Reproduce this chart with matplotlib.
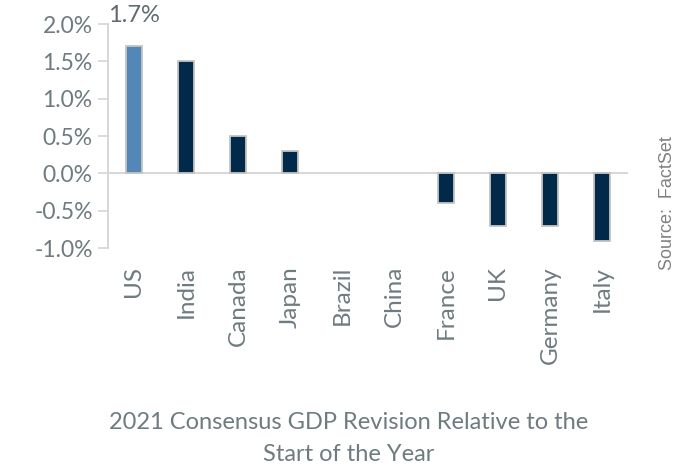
import matplotlib.pyplot as plt
from matplotlib.ticker import FuncFormatter

# GDP revision by country, in percentage points
countries = ["US", "India", "Canada", "Japan", "Brazil", "China",
             "France", "UK", "Germany", "Italy"]
revisions = [1.7, 1.5, 0.5, 0.3, 0.0, 0.0, -0.4, -0.7, -0.7, -0.9]
highlight = "US"
y_ticks = [-1.0, -0.5, 0.0, 0.5, 1.0, 1.5, 2.0]

DARK = "#012a4a"
LIGHT = "#5387b7"
TEXT = "#6e7b80"
GRID = "#d6d6d6"

fig = plt.figure(figsize=(6.9, 4.68), dpi=100)
ax = fig.add_axes([0.1565, 0.47, 0.7535, 0.4787])

colors = [LIGHT if c == highlight else DARK for c in countries]
edges = [1.3 if v != 0 else 0 for v in revisions]
x = range(len(countries))
ax.bar(x, revisions, width=0.31, color=colors, edgecolor="#c4c4c4",
       linewidth=edges, zorder=3)
ax.axhline(0, color=GRID, lw=1.4, zorder=2)

ax.set_xlim(-0.5, len(countries) - 0.5)
ax.set_ylim(-1.0, 2.0)
ax.set_yticks(y_ticks)
ax.yaxis.set_major_formatter(FuncFormatter(lambda v, _: f"{v:.1f}%"))
ax.tick_params(axis="y", length=7, width=1.2, color=GRID, labelsize=16.5,
               labelcolor=TEXT, pad=4)
for lbl in ax.get_yticklabels():
    lbl.set_fontfamily("Lato")

ax.set_xticks(list(x))
ax.set_xticklabels(countries, rotation=90, fontsize=17.5, color=TEXT,
                   fontfamily="Lato")
ax.tick_params(axis="x", length=0, pad=13)
ax.xaxis.set_ticks_position("bottom")

for side in ["top", "right", "bottom"]:
    ax.spines[side].set_visible(False)
ax.spines["left"].set_color(GRID)
ax.spines["left"].set_linewidth(1.4)

# value label for the highlighted bar
i = countries.index(highlight)
ax.text(i, revisions[i] + 0.42, f"{revisions[i]:.1f}%", ha="center",
        va="center", fontsize=17, color="#5f6b70", fontfamily="Lato",
        clip_on=False)

fig.text(0.505, 0.063, "2021 Consensus GDP Revision Relative to the\nStart of the Year",
         ha="center", va="center", fontsize=17, color=TEXT, fontfamily="Lato",
         linespacing=1.6)
fig.text(0.968, 0.566, "Source:  FactSet", rotation=90, ha="center", va="center",
         fontsize=13, color="#808080", fontfamily="Liberation Sans")

fig.savefig("out.png", dpi=100)
